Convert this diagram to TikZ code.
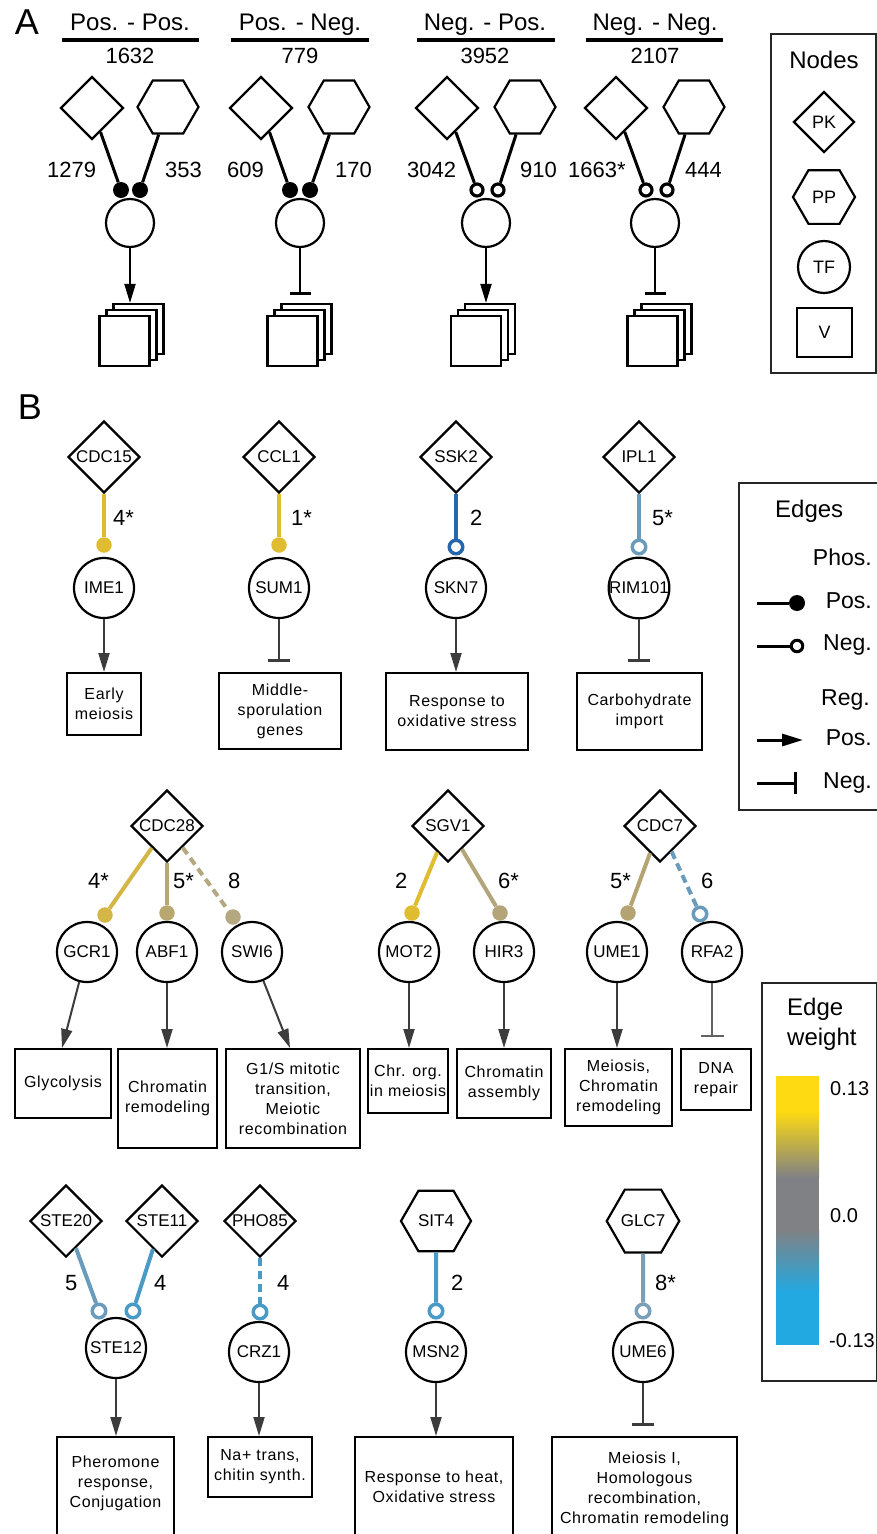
\documentclass[tikz,border=0pt]{standalone}
\usepackage{fontspec}
\setmainfont{Liberation Sans}
\newfontfamily\boxfont[LetterSpace=4]{Liberation Sans}
\usetikzlibrary{shapes.geometric,arrows.meta,calc}
\definecolor{cyel}{HTML}{E0BC30}
\definecolor{cyeltwo}{HTML}{D4B646}
\definecolor{ckhone}{HTML}{B9A770}
\definecolor{ckhtwo}{HTML}{B5A880}
\definecolor{ckhthree}{HTML}{B3A47A}
\definecolor{ckhfour}{HTML}{B5A473}
\definecolor{cdblue}{HTML}{2467AC}
\definecolor{csteel}{HTML}{6A9BBB}
\definecolor{csteeltwo}{HTML}{7A9FB8}
\definecolor{cblue}{HTML}{4A9AC8}
\definecolor{agrey}{HTML}{3C3C3C}
\definecolor{cbyel}{HTML}{FDDA12}
\definecolor{cbgrey}{HTML}{808184}
\definecolor{cbblue}{HTML}{22A9E1}
\begin{document}
\begin{tikzpicture}[x=1pt,y=-1pt,
  shp/.style={draw=black, line width=2.2pt, fill=white, inner sep=0pt},
  pk/.style={shp, diamond, minimum width=72pt, minimum height=72pt, font=\fontsize{17}{19}\selectfont},
  pp/.style={shp, regular polygon, regular polygon sides=6, minimum size=70pt, font=\fontsize{17}{19}\selectfont},
  tf/.style={shp, circle, minimum size=60pt, font=\fontsize{17}{19}\selectfont},
  vbox/.style={draw=black, line width=2pt, fill=white, inner sep=0pt, align=center, font=\boxfont\fontsize{16}{20}\selectfont},
  vtext/.style={inner sep=0pt, align=center, font=\boxfont\fontsize{16}{20}\selectfont},
  apk/.style={shp, diamond, minimum width=63pt, minimum height=63pt},
  app/.style={shp, regular polygon, regular polygon sides=6, minimum size=61pt},
  atf/.style={shp, circle, minimum size=48pt},
  asq/.style={shp, minimum width=50pt, minimum height=50pt},
  hdr/.style={anchor=base, inner sep=0pt, font=\fontsize{24}{28}\selectfont},
  num/.style={anchor=base, inner sep=0pt, font=\fontsize{22}{26}\selectfont},
  nlab/.style={anchor=base west, inner sep=0pt, font=\fontsize{22}{26}\selectfont},
  big/.style={inner sep=0pt, font=\fontsize{36}{40}\selectfont},
  legt/.style={anchor=base east, inner sep=0pt, font=\fontsize{23}{27}\selectfont},
  legw/.style={anchor=base west, inner sep=0pt, font=\fontsize{24}{28}\selectfont},
  cbl/.style={anchor=base west, inner sep=0pt, font=\fontsize{20}{24}\selectfont},
  adotf/.style={circle, fill=black, draw=none, minimum size=16pt, inner sep=0pt},
  adoto/.style={circle, draw=black, fill=white, line width=3.2pt, minimum size=12pt, inner sep=0pt},
  aedge/.style={draw=black, line width=3pt},
  aregpos/.style={draw=black, line width=2pt, -{Triangle[length=19pt,width=11pt]}},
  aregneg/.style={draw=black, line width=1.5pt, -{Bar[width=21pt,line width=3.5pt]}},
  bdotf/.style={circle, fill=#1, draw=none, minimum size=15.5pt, inner sep=0pt},
  bdoto/.style={circle, draw=#1, fill=white, line width=3.5pt, minimum size=13.5pt, inner sep=0pt},
  bedge/.style={draw=#1, line width=4pt},
  bdash/.style={draw=#1, line width=4pt, dash pattern=on 8pt off 5pt},
  regpos/.style={draw=agrey, line width=2pt, -{Triangle[length=19pt,width=11pt]}},
  regneg/.style={draw=agrey, line width=2pt, -{Bar[width=22pt,line width=3pt]}, shorten >=10pt},
  legbox/.style={draw=black!85, line width=2pt}
]
\useasboundingbox (0,0) rectangle (877,1534);
\clip (0,0) rectangle (877,1534);

% ================= Part A =================
\node[big] (labA) at (27,22) {A};

\node[hdr] (h1) at (130,30) {Pos. - Pos.};
\node[hdr] (h2) at (300,30) {Pos. - Neg.};
\node[hdr] (h3) at (485,30) {Neg. - Pos.};
\node[hdr] (h4) at (655,30) {Neg. - Neg.};
\coordinate (u1a) at (62,40); \coordinate (u1b) at (199,40);
\coordinate (u2a) at (231,40); \coordinate (u2b) at (369,40);
\coordinate (u3a) at (417,40); \coordinate (u3b) at (555,40);
\coordinate (u4a) at (586,40); \coordinate (u4b) at (723,40);
\draw[line width=3.5pt] (u1a) -- (u1b);
\draw[line width=3.5pt] (u2a) -- (u2b);
\draw[line width=3.5pt] (u3a) -- (u3b);
\draw[line width=3.5pt] (u4a) -- (u4b);
\node[num] (n1) at (130,63) {1632};
\node[num] (n2) at (300,63) {779};
\node[num] (n3) at (485,63) {3952};
\node[num] (n4) at (655,63) {2107};

% group 1
\node[apk] (a1k) at (92,108) {};
\node[app] (a1p) at (168,107) {};
\node[atf] (a1t) at (130,223) {};
\node[adotf] (a1dk) at (121,190) {};
\node[adotf] (a1dp) at (140,190) {};
\draw[aedge] (a1k) -- (a1dk);
\draw[aedge] (a1p) -- (a1dp);
\node[nlab] (l1k) at (47,177) {1279};
\node[nlab] (l1p) at (165,177) {353};
\node[asq] (a1s3) at (138.5,329) {};
\node[asq] (a1s2) at (131.5,335) {};
\node[asq] (a1s1) at (124.5,341) {};
\draw[aregpos] (a1t) -- (a1t |- a1s3.north);

% group 2
\node[apk] (a2k) at (261,108) {};
\node[app] (a2p) at (339,107) {};
\node[atf] (a2t) at (300,223) {};
\node[adotf] (a2dk) at (290,190) {};
\node[adotf] (a2dp) at (310,190) {};
\draw[aedge] (a2k) -- (a2dk);
\draw[aedge] (a2p) -- (a2dp);
\node[nlab] (l2k) at (227,177) {609};
\node[nlab] (l2p) at (335,177) {170};
\node[asq] (a2s3) at (306.5,329) {};
\node[asq] (a2s2) at (299.5,335) {};
\node[asq] (a2s1) at (292.5,341) {};
\coordinate (a2e) at (300,303);
\draw[aregneg, shorten >=8pt] (a2t) -- (a2e);

% group 3
\node[apk] (a3k) at (447,108) {};
\node[app] (a3p) at (525,107) {};
\node[atf] (a3t) at (486,223) {};
\node[adoto] (a3dk) at (477,190) {};
\node[adoto] (a3dp) at (498,190) {};
\draw[aedge] (a3k) -- (a3dk);
\draw[aedge] (a3p) -- (a3dp);
\node[nlab] (l3k) at (407,177) {3042};
\node[nlab] (l3p) at (520,177) {910};
\node[asq] (a3s3) at (490,329) {};
\node[asq] (a3s2) at (483,335) {};
\node[asq] (a3s1) at (476,341) {};
\draw[aregpos] (a3t) -- (a3t |- a3s3.north);

% group 4
\node[apk] (a4k) at (616,108) {};
\node[app] (a4p) at (694,107) {};
\node[atf] (a4t) at (655,223) {};
\node[adoto] (a4dk) at (646,190) {};
\node[adoto] (a4dp) at (667,190) {};
\draw[aedge] (a4k) -- (a4dk);
\draw[aedge] (a4p) -- (a4dp);
\node[nlab] (l4k) at (568,177) {1663*};
\node[nlab] (l4p) at (685,177) {444};
\node[asq] (a4s3) at (666.5,329) {};
\node[asq] (a4s2) at (659.5,335) {};
\node[asq] (a4s1) at (652.5,341) {};
\coordinate (a4e) at (655,303);
\draw[aregneg, shorten >=8pt] (a4t) -- (a4e);

% Nodes legend
\node[legbox, minimum width=105pt, minimum height=339pt, inner sep=0pt] (nodeleg) at (823.5,203.5) {};
\node[anchor=base, inner sep=0pt, font=\fontsize{24}{28}\selectfont] (nodest) at (824,68) {Nodes};
\node[shp, diamond, minimum width=61pt, minimum height=61pt, font=\fontsize{18}{20}\selectfont] (legpk) at (824,122) {PK};
\node[shp, regular polygon, regular polygon sides=6, minimum size=62pt, font=\fontsize{18}{20}\selectfont] (legpp) at (824,197) {PP};
\node[shp, circle, minimum size=52pt, font=\fontsize{18}{20}\selectfont] (legtf) at (824,267) {TF};
\node[shp, minimum width=55pt, minimum height=49pt, font=\fontsize{18}{20}\selectfont] (legv) at (824.5,332.5) {V};

% ================= Part B =================
\node[big] (labB) at (30,407) {B};

% row 1
\node[pk] (CDC15) at (104,457) {CDC15};
\node[pk] (CCL1) at (279,457) {CCL1};
\node[pk] (SSK2) at (456,457) {SSK2};
\node[pk] (IPL1) at (639,457) {IPL1};
\node[tf] (IME1) at (104,588) {IME1};
\node[tf] (SUM1) at (279,588) {SUM1};
\node[tf] (SKN7) at (456,588) {SKN7};
\node[tf] (RIM101) at (639,588) {RIM101};
\node[bdotf=cyel] (dIME1) at (104,545) {};
\node[bdotf=cyel] (dSUM1) at (279,545) {};
\node[bdoto=cdblue] (dSKN7) at (456,547) {};
\node[bdoto=csteel] (dRIM101) at (639,547) {};
\draw[bedge=cyel] (CDC15) -- (dIME1);
\draw[bedge=cyel] (CCL1) -- (dSUM1);
\draw[bedge=cdblue] (SSK2) -- (dSKN7);
\draw[bedge=csteel] (IPL1) -- (dRIM101);
\node[nlab] (e1) at (113,525) {4*};
\node[nlab] (e2) at (291,525) {1*};
\node[nlab] (e3) at (470,525) {2};
\node[nlab] (e4) at (652,525) {5*};
\node[vbox, minimum width=74pt, minimum height=62pt] (b1) at (104,704) {Early\\meiosis};
\node[vbox, minimum width=122pt, minimum height=76pt] (b2) at (280,711) {Middle-\\sporulation\\genes};
\node[vbox, minimum width=142pt, minimum height=77pt] (b3) at (457,711.5) {Response to\\oxidative stress};
\node[vbox, minimum width=125pt, minimum height=77pt] (b4) at (639.5,711.5) {Carbohydrate\\import};
\draw[regpos] (IME1) -- (IME1 |- b1.north);
\draw[regneg] (SUM1) -- (SUM1 |- b2.north);
\draw[regpos] (SKN7) -- (SKN7 |- b3.north);
\draw[regneg] (RIM101) -- (RIM101 |- b4.north);

% Edges legend
\node[legbox, minimum width=141pt, minimum height=327pt, inner sep=0pt] (edgeleg) at (809.5,646.5) {};
\node[legw] (edgest) at (775,517) {Edges};
\node[legt] (phost) at (872,565) {Phos.};
\coordinate (lp1) at (757,603);
\node[circle, fill=black, minimum size=16pt, inner sep=0pt] (lpd) at (797,603) {};
\draw[line width=3pt] (lp1) -- (lpd);
\node[legt] (lpt) at (872,608) {Pos.};
\coordinate (ln1) at (757,646);
\node[circle, draw=black, fill=white, line width=3pt, minimum size=11.5pt, inner sep=0pt] (lnd) at (797,646) {};
\draw[line width=3pt] (ln1) -- (lnd);
\node[legt] (lnt) at (872,650) {Neg.};
\node[legt] (regt) at (870,705) {Reg.};
\coordinate (lr1) at (757,740); \coordinate (lr2) at (803,740);
\draw[line width=3pt, -{Triangle[length=21pt,width=12pt]}] (lr1) -- (lr2);
\node[legt] (lrt) at (872,745) {Pos.};
\coordinate (li1) at (757,783); \coordinate (li2) at (797,783);
\draw[line width=3pt, -{Bar[width=22pt,line width=3.5pt]}] (li1) -- (li2);
\node[legt] (lit) at (872,788) {Neg.};

% row 2
\node[pk] (CDC28) at (167,826) {CDC28};
\node[pk] (SGV1) at (448,826) {SGV1};
\node[pk] (CDC7) at (660,826) {CDC7};
\node[tf] (GCR1) at (87,952) {GCR1};
\node[tf] (ABF1) at (167,952) {ABF1};
\node[tf] (SWI6) at (252,952) {SWI6};
\node[tf] (MOT2) at (409,952) {MOT2};
\node[tf] (HIR3) at (504,952) {HIR3};
\node[tf] (UME1) at (617,952) {UME1};
\node[tf] (RFA2) at (712,952) {RFA2};
\node[bdotf=cyeltwo] (dGCR1) at (105,915) {};
\node[bdotf=ckhone] (dABF1) at (167,913) {};
\node[bdotf=ckhtwo] (dSWI6) at (233,917) {};
\node[bdotf=cyel] (dMOT2) at (412,913) {};
\node[bdotf=ckhthree] (dHIR3) at (500,913) {};
\node[bdotf=ckhfour] (dUME1) at (628,913) {};
\node[bdoto=csteel] (dRFA2) at (700,914) {};
\draw[bedge=cyeltwo] (CDC28) -- (dGCR1);
\draw[bedge=ckhone] (CDC28) -- (dABF1);
\draw[bdash=ckhtwo] (CDC28) -- (dSWI6);
\draw[bedge=cyel] (SGV1) -- (dMOT2);
\draw[bedge=ckhthree] (SGV1) -- (dHIR3);
\draw[bedge=ckhfour] (CDC7) -- (dUME1);
\draw[bdash=csteel] (CDC7) -- (dRFA2);
\node[nlab] (e5) at (88,888) {4*};
\node[nlab] (e6) at (173,888) {5*};
\node[nlab] (e7) at (228,888) {8};
\node[nlab] (e8) at (395,888) {2};
\node[nlab] (e9) at (498,888) {6*};
\node[nlab] (e10) at (610,888) {5*};
\node[nlab] (e11) at (701,888) {6};
\node[vbox, minimum width=96pt, minimum height=69pt] (g1) at (63,1083.5) {Glycolysis};
\node[vbox, minimum width=99pt, minimum height=99pt] (g2) at (167.5,1098.5) {Chromatin\\remodeling};
\node[vbox, minimum width=134pt, minimum height=99pt] (g3) at (293,1098.5) {G1/S mitotic\\transition,\\Meiotic\\recombination};
\node[vbox, minimum width=80pt, minimum height=64pt] (g4) at (408,1081) {Chr. org.\\in meiosis};
\node[vbox, minimum width=94pt, minimum height=69pt] (g5) at (504,1083.5) {Chromatin\\assembly};
\node[vbox, minimum width=107pt, minimum height=77pt] (g6) at (618.5,1087.5) {Meiosis,\\Chromatin\\remodeling};
\node[vbox, minimum width=70pt, minimum height=61pt] (g7) at (716,1079.5) {DNA\\repair};
\draw[regpos] (GCR1) -- ($(g1.north)+(-1,0)$);
\draw[regpos] (ABF1) -- (ABF1 |- g2.north);
\draw[regpos] (SWI6) -- ($(g3.north)+(-3,0)$);
\draw[regpos] (MOT2) -- (MOT2 |- g4.north);
\draw[regpos] (HIR3) -- (HIR3 |- g5.north);
\draw[regpos] (UME1) -- (UME1 |- g6.north);
\draw[draw=agrey!80, line width=1.5pt, -{Bar[width=23pt,line width=2pt]}, shorten >=11pt] (RFA2) -- (RFA2 |- g7.north);

% Edge weight legend
\node[legbox, minimum width=115pt, minimum height=398pt, inner sep=0pt] (wleg) at (819.5,1182) {};
\node[legw] (wt1) at (787,1015) {Edge};
\node[legw] (wt2) at (787,1045) {weight};
\fill[cbyel] (776,1076) rectangle (819,1112);
\shade[top color=cbyel, bottom color=cbgrey] (776,1111.5) rectangle (819,1177.5);
\fill[cbgrey] (776,1177) rectangle (819,1230);
\shade[top color=cbgrey, bottom color=cbblue] (776,1229.5) rectangle (819,1292.5);
\fill[cbblue] (776,1292) rectangle (819,1345);
\node[cbl] (w1) at (830,1095) {0.13};
\node[cbl] (w2) at (830,1222) {0.0};
\node[cbl] (w3) at (829,1347) {-0.13};

% row 3
\node[pk] (STE20) at (66,1221) {STE20};
\node[pk] (STE11) at (162,1221) {STE11};
\node[pk] (PHO85) at (260,1221) {PHO85};
\node[pp] (SIT4) at (436,1221) {SIT4};
\node[pp] (GLC7) at (643,1221) {GLC7};
\node[tf] (STE12) at (116,1348) {STE12};
\node[tf] (CRZ1) at (259,1352) {CRZ1};
\node[tf] (MSN2) at (436,1352) {MSN2};
\node[tf] (UME6) at (643,1352) {UME6};
\node[bdoto=csteel] (dSTE12a) at (99,1311) {};
\node[bdoto=cblue] (dSTE12b) at (133,1311) {};
\node[bdoto=cblue] (dCRZ1) at (260,1312) {};
\node[bdoto=cblue] (dMSN2) at (436,1311) {};
\node[bdoto=csteeltwo] (dUME6) at (643,1311) {};
\draw[bedge=csteel] (STE20) -- (dSTE12a);
\draw[bedge=cblue] (STE11) -- (dSTE12b);
\draw[bdash=cblue] (PHO85) -- (dCRZ1);
\draw[bedge=cblue] (SIT4) -- (dMSN2);
\draw[bedge=csteeltwo] (GLC7) -- (dUME6);
\node[nlab] (e12) at (65,1290) {5};
\node[nlab] (e13) at (154,1290) {4};
\node[nlab] (e14) at (277,1290) {4};
\node[nlab] (e15) at (451,1290) {2};
\node[nlab] (e16) at (655,1290) {8*};
\node[vbox, minimum width=117pt, minimum height=130pt] (k1) at (115.5,1502) {};
\node[vtext] (k1t) at (115.5,1483) {Pheromone\\response,\\Conjugation};
\node[vbox, minimum width=104pt, minimum height=60pt] (k2) at (260,1467) {Na+ trans,\\chitin synth.};
\node[vbox, minimum width=158pt, minimum height=130pt] (k3) at (434,1502) {};
\node[vtext] (k3t) at (434,1487) {Response to heat,\\Oxidative stress};
\node[vbox, minimum width=185pt, minimum height=130pt] (k4) at (644.5,1502) {};
\node[vtext] (k4t) at (644.5,1489) {Meiosis I,\\Homologous\\recombination,\\Chromatin remodeling};
\draw[regpos] (STE12) -- (STE12 |- k1.north);
\draw[regpos] (CRZ1) -- (CRZ1 |- k2.north);
\draw[regpos] (MSN2) -- (MSN2 |- k3.north);
\draw[regneg] (UME6) -- (UME6 |- k4.north);
\end{tikzpicture}
\end{document}
